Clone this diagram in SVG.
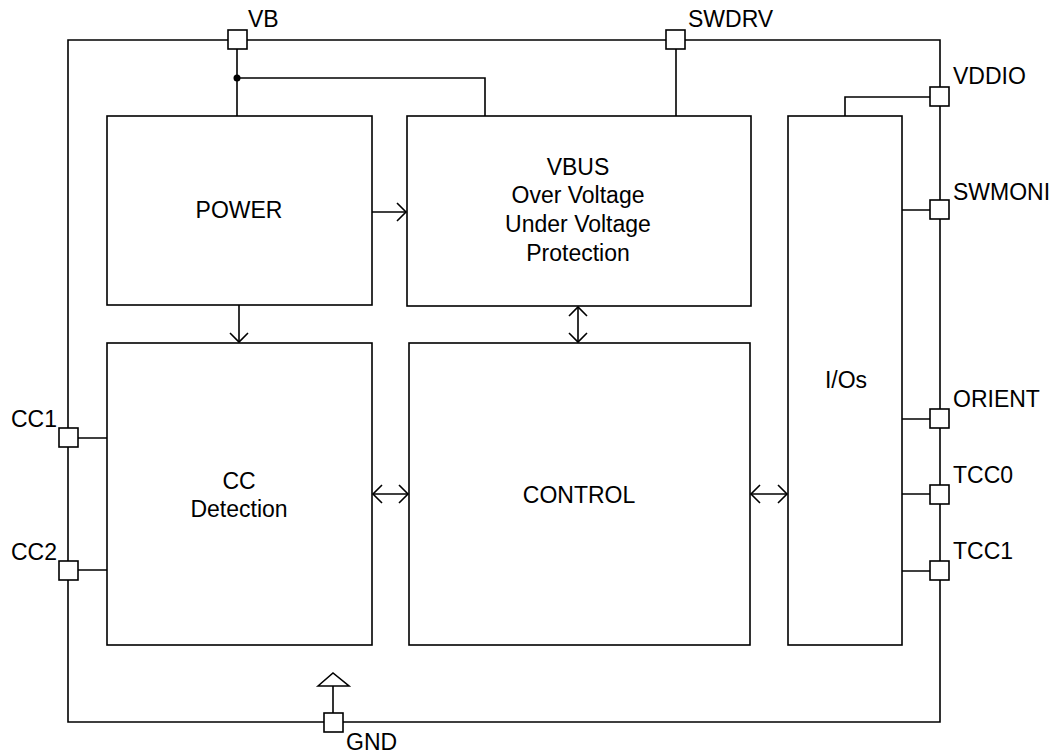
<svg xmlns="http://www.w3.org/2000/svg" width="1057" height="753" viewBox="0 0 1057 753">
<style>
.ln{fill:none;stroke:#000;stroke-width:1.6}
.bx{fill:#fff;stroke:#000;stroke-width:1.6}
.pin{fill:#fff;stroke:#000;stroke-width:1.6}
text{font-family:"Liberation Sans",Arial,sans-serif;font-size:23px;fill:#000}
.c{text-anchor:middle}
</style>
<defs>
<marker id="ah" markerUnits="userSpaceOnUse" markerWidth="24" markerHeight="24" viewBox="-12 -12 24 24" refX="0" refY="0" orient="auto-start-reverse">
<path d="M-9,-9 L0,0 L-9,9" fill="none" stroke="#000" stroke-width="1.6"/>
</marker>
</defs>
<rect width="1057" height="753" fill="#fff"/>
<g id="connectors">
<path class="ln" d="M68,40 H940 V722 H68 Z"/>
<path class="ln" d="M237,40 V116"/>
<path class="ln" d="M237,78 H485 V116"/>
<circle cx="237" cy="78" r="3.5" fill="#000"/>
<path class="ln" d="M676,40 V116"/>
<path class="ln" d="M940,97 H845 V116"/>
<path class="ln" d="M902,210 H940"/>
<path class="ln" d="M902,419 H940"/>
<path class="ln" d="M902,494 H940"/>
<path class="ln" d="M902,571 H940"/>
<path class="ln" d="M68,438 H107"/>
<path class="ln" d="M68,570 H107"/>
<path class="ln" d="M239,305 V342" marker-end="url(#ah)"/>
<path class="ln" d="M372,212 H406" marker-end="url(#ah)"/>
<path class="ln" d="M578,307 V342" marker-start="url(#ah)" marker-end="url(#ah)"/>
<path class="ln" d="M373,494 H408" marker-start="url(#ah)" marker-end="url(#ah)"/>
<path class="ln" d="M751,494 H787" marker-start="url(#ah)" marker-end="url(#ah)"/>
<path class="ln" d="M333,713 V686"/>
<path class="ln" d="M318,686 L333,673 L349,686 Z"/>
</g>
<g id="power"><rect class="bx" x="107" y="116" width="265" height="189"/><text class="c" x="239" y="218">POWER</text></g>
<g id="vbus"><rect class="bx" x="407" y="116" width="344" height="190"/>
<text class="c" x="578" y="175">VBUS</text><text class="c" x="578" y="203">Over Voltage</text><text class="c" x="578" y="232">Under Voltage</text><text class="c" x="578" y="261">Protection</text></g>
<g id="cc"><rect class="bx" x="107" y="343" width="265" height="302"/><text class="c" x="239" y="489">CC</text><text class="c" x="239" y="517">Detection</text></g>
<g id="control"><rect class="bx" x="409" y="343" width="341" height="302"/><text class="c" x="579" y="503">CONTROL</text></g>
<g id="ios"><rect class="bx" x="788" y="116" width="114" height="529"/><text class="c" x="846" y="388">I/Os</text></g>
<g id="pin-vb"><rect class="pin" x="228" y="30" width="19" height="19"/><text x="248" y="27">VB</text></g>
<g id="pin-swdrv"><rect class="pin" x="666" y="30" width="19" height="19"/><text x="688" y="27">SWDRV</text></g>
<g id="pin-vddio"><rect class="pin" x="930" y="87" width="19" height="19"/><text x="953" y="84">VDDIO</text></g>
<g id="pin-swmoni"><rect class="pin" x="930" y="200" width="19" height="19"/><text x="953" y="200">SWMONI</text></g>
<g id="pin-orient"><rect class="pin" x="930" y="409" width="19" height="19"/><text x="953" y="407">ORIENT</text></g>
<g id="pin-tcc0"><rect class="pin" x="930" y="485" width="19" height="19"/><text x="953" y="483">TCC0</text></g>
<g id="pin-tcc1"><rect class="pin" x="930" y="561" width="19" height="19"/><text x="953" y="559">TCC1</text></g>
<g id="pin-cc1"><rect class="pin" x="59" y="428" width="19" height="19"/><text x="11" y="427">CC1</text></g>
<g id="pin-cc2"><rect class="pin" x="59" y="561" width="19" height="19"/><text x="11" y="560">CC2</text></g>
<g id="pin-gnd"><rect class="pin" x="324" y="713" width="19" height="19"/><text x="346" y="750">GND</text></g>
</svg>
